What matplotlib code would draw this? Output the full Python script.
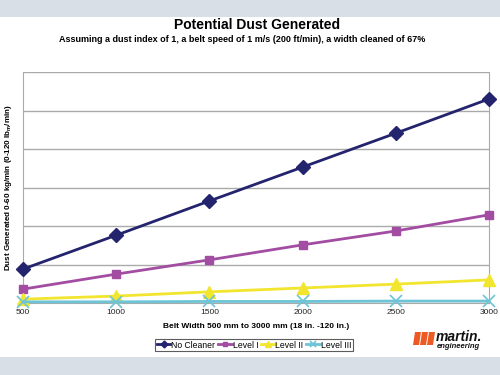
import matplotlib
matplotlib.use('Agg')
import matplotlib.pyplot as plt
from matplotlib.patches import Rectangle, Polygon

plt.rcParams['font.family'] = ['Liberation Sans', 'DejaVu Sans']

# belt width (mm)
widths = [500, 1000, 1500, 2000, 2500, 3000]
# dust generated (kg/min)
no_cleaner = [8.8, 17.6, 26.5, 35.3, 44.1, 53.0]
level_1 = [3.6, 7.5, 11.2, 15.1, 18.7, 22.9]
level_2 = [1.0, 1.8, 2.9, 3.9, 4.9, 6.0]
level_3 = [0.3, 0.3, 0.4, 0.4, 0.5, 0.5]

series = [
    ('No Cleaner', no_cleaner, '#23236e', 'D', 7),
    ('Level I', level_1, '#a24ca2', 's', 6),
    ('Level II', level_2, '#f2e52e', '^', 8),
    ('Level III', level_3, '#6cc4d6', 'x', 8),
]

fig = plt.figure(figsize=(5, 3.75), dpi=100)
fig.patch.set_facecolor('white')

# grey bands top and bottom
fig.add_artist(Rectangle((0, 1 - 17 / 375), 1, 17 / 375, transform=fig.transFigure,
                         facecolor='#d9dfe6', edgecolor='none'))
fig.add_artist(Rectangle((0, 0), 1, 18 / 375, transform=fig.transFigure,
                         facecolor='#d9dfe6', edgecolor='none'))

ax = fig.add_axes([23 / 500, 1 - 303 / 375, 466 / 500, 231 / 375])
for name, vals, col, mk, ms in series:
    ax.plot(widths, vals, color=col, lw=2, marker=mk, ms=ms, mew=1.2 if mk == 'x' else 1,
            label=name, clip_on=False, zorder=3)

ax.set_xlim(500, 3000)
ax.set_ylim(0, 60)
ax.set_xticks(widths)
ax.set_yticks(range(0, 61, 10))
ax.set_yticklabels([])
ax.tick_params(axis='y', length=0)
ax.tick_params(axis='x', length=0, labelsize=6, pad=4, colors='#222222')
ax.grid(axis='y', color='#aaaaaa', lw=1)
ax.set_axisbelow(True)
ax.spines['top'].set_visible(False)
for s in ['left', 'right', 'bottom']:
    ax.spines[s].set_color('#aaaaaa')

ax.set_xlabel('Belt Width 500 mm to 3000 mm (18 in. -120 in.)', fontsize=6,
              fontweight='bold', labelpad=5)
ax.set_ylabel('Dust Generated 0-60 kg/min (0-120 lb$_\\mathregular{m}$/min)', fontsize=5.8,
              fontweight='bold', labelpad=3)

fig.text(0.515, 1 - 25 / 375, 'Potential Dust Generated', ha='center', va='center',
         fontsize=10, fontweight='bold')
fig.text(0.485, 1 - 39 / 375,
         'Assuming a dust index of 1, a belt speed of 1 m/s (200 ft/min), a width cleaned of 67%',
         ha='center', va='center', fontsize=6.5, fontweight='bold')

leg = fig.legend(loc='center', bbox_to_anchor=(0.508, 1 - 345 / 375), ncol=4, fontsize=6.2,
                 frameon=True, fancybox=False, edgecolor='#333333', handlelength=1.6,
                 handletextpad=0.1, columnspacing=0.3, borderpad=0.2, markerscale=0.5)
leg.get_frame().set_linewidth(0.8)

# martin engineering logo
for i in range(3):
    x0 = 413 + i * 7
    pts = [(x0 + 2, 332), (x0 + 8, 332), (x0 + 6, 345), (x0, 345)]
    fig.add_artist(Polygon([(px / 500, 1 - py / 375) for px, py in pts],
                           transform=fig.transFigure, facecolor='#ee5a24', edgecolor='none'))
fig.text(436 / 500, 1 - 337 / 375, 'martin.', fontsize=10, fontweight='bold',
         fontstyle='italic', va='center', ha='left', color='#111111')
fig.text(437 / 500, 1 - 346 / 375, 'engineering', fontsize=5.5, fontweight='bold',
         fontstyle='italic', va='center', ha='left', color='#111111')

fig.savefig('out.png', dpi=100)
